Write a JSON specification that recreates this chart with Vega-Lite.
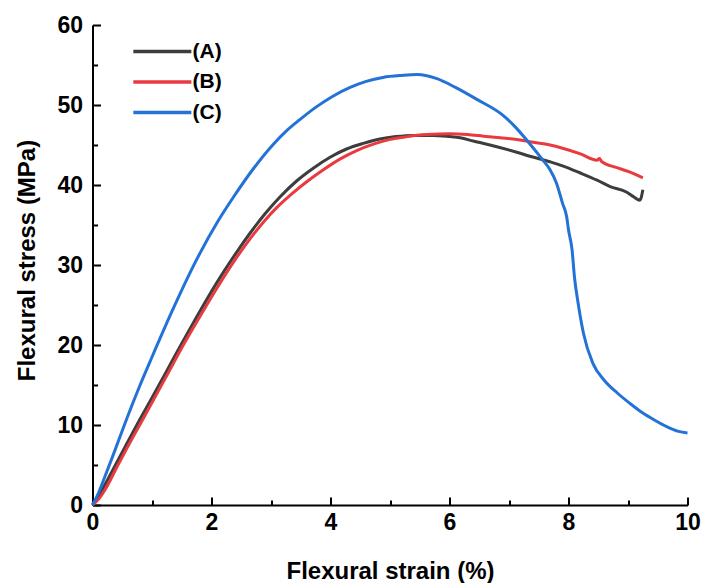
{
  "$schema": "https://vega.github.io/schema/vega-lite/v6.json",
  "width": 595,
  "height": 480,
  "autosize": {"type": "none"},
  "padding": {"left": 92.5, "top": 25, "right": 14.5, "bottom": 78},
  "background": "white",
  "config": {"view": {"stroke": null}, "font": "Liberation Sans"},
  "data": {"values": [
    {"s":"(A)","x":0,"y":0},{"s":"(A)","x":0.1,"y":1.1},{"s":"(A)","x":0.25,"y":3.1},{"s":"(A)","x":0.5,"y":6.6},{"s":"(A)","x":0.745,"y":10},{"s":"(A)","x":1.0,"y":13.4},{"s":"(A)","x":1.25,"y":16.8},{"s":"(A)","x":1.5,"y":20.2},{"s":"(A)","x":1.75,"y":23.5},{"s":"(A)","x":2.09,"y":27.8},{"s":"(A)","x":2.45,"y":31.9},{"s":"(A)","x":2.65,"y":34.0},{"s":"(A)","x":2.9,"y":36.4},{"s":"(A)","x":3.15,"y":38.5},{"s":"(A)","x":3.43,"y":40.5},{"s":"(A)","x":3.71,"y":42.1},{"s":"(A)","x":4.0,"y":43.5},{"s":"(A)","x":4.27,"y":44.5},{"s":"(A)","x":4.55,"y":45.2},{"s":"(A)","x":4.83,"y":45.75},{"s":"(A)","x":5.1,"y":46.05},{"s":"(A)","x":5.39,"y":46.2},{"s":"(A)","x":5.72,"y":46.2},{"s":"(A)","x":6.0,"y":46.05},{"s":"(A)","x":6.18,"y":45.9},{"s":"(A)","x":6.4,"y":45.5},{"s":"(A)","x":6.68,"y":45.0},{"s":"(A)","x":7.13,"y":44.1},{"s":"(A)","x":7.35,"y":43.6},{"s":"(A)","x":7.69,"y":42.9},{"s":"(A)","x":7.9,"y":42.4},{"s":"(A)","x":8.2,"y":41.5},{"s":"(A)","x":8.48,"y":40.6},{"s":"(A)","x":8.7,"y":39.8},{"s":"(A)","x":8.98,"y":39.1},{"s":"(A)","x":9.1,"y":38.5},{"s":"(A)","x":9.2,"y":38.1},{"s":"(A)","x":9.25,"y":39.4},
    {"s":"(B)","x":0,"y":0},{"s":"(B)","x":0.1,"y":0.7},{"s":"(B)","x":0.21,"y":1.9},{"s":"(B)","x":0.4,"y":4.6},{"s":"(B)","x":0.6,"y":7.4},{"s":"(B)","x":0.8,"y":10.1},{"s":"(B)","x":1.0,"y":12.8},{"s":"(B)","x":1.25,"y":16.2},{"s":"(B)","x":1.55,"y":20.3},{"s":"(B)","x":1.8,"y":23.5},{"s":"(B)","x":2.09,"y":27.1},{"s":"(B)","x":2.4,"y":30.7},{"s":"(B)","x":2.65,"y":33.3},{"s":"(B)","x":2.9,"y":35.6},{"s":"(B)","x":3.1,"y":37.2},{"s":"(B)","x":3.32,"y":38.7},{"s":"(B)","x":3.6,"y":40.4},{"s":"(B)","x":3.88,"y":41.9},{"s":"(B)","x":4.15,"y":43.2},{"s":"(B)","x":4.44,"y":44.3},{"s":"(B)","x":4.72,"y":45.1},{"s":"(B)","x":5.0,"y":45.7},{"s":"(B)","x":5.25,"y":46.0},{"s":"(B)","x":5.5,"y":46.25},{"s":"(B)","x":5.75,"y":46.35},{"s":"(B)","x":6.01,"y":46.4},{"s":"(B)","x":6.3,"y":46.3},{"s":"(B)","x":6.57,"y":46.1},{"s":"(B)","x":6.85,"y":45.9},{"s":"(B)","x":7.13,"y":45.7},{"s":"(B)","x":7.35,"y":45.4},{"s":"(B)","x":7.69,"y":45.0},{"s":"(B)","x":7.9,"y":44.6},{"s":"(B)","x":8.2,"y":43.9},{"s":"(B)","x":8.48,"y":43.1},{"s":"(B)","x":8.52,"y":43.3},{"s":"(B)","x":8.56,"y":42.9},{"s":"(B)","x":8.8,"y":42.2},{"s":"(B)","x":9.0,"y":41.7},{"s":"(B)","x":9.25,"y":40.9},
    {"s":"(C)","x":0,"y":0},{"s":"(C)","x":0.1,"y":1.5},{"s":"(C)","x":0.18,"y":3.0},{"s":"(C)","x":0.35,"y":6.3},{"s":"(C)","x":0.52,"y":9.7},{"s":"(C)","x":0.8,"y":15.0},{"s":"(C)","x":1.0,"y":18.5},{"s":"(C)","x":1.36,"y":24.6},{"s":"(C)","x":1.69,"y":29.8},{"s":"(C)","x":2.11,"y":35.5},{"s":"(C)","x":2.37,"y":38.5},{"s":"(C)","x":2.7,"y":42.0},{"s":"(C)","x":3.04,"y":45.1},{"s":"(C)","x":3.25,"y":46.7},{"s":"(C)","x":3.49,"y":48.2},{"s":"(C)","x":3.75,"y":49.7},{"s":"(C)","x":4.04,"y":51.1},{"s":"(C)","x":4.33,"y":52.2},{"s":"(C)","x":4.6,"y":52.95},{"s":"(C)","x":4.88,"y":53.45},{"s":"(C)","x":5.2,"y":53.7},{"s":"(C)","x":5.45,"y":53.8},{"s":"(C)","x":5.6,"y":53.7},{"s":"(C)","x":5.79,"y":53.3},{"s":"(C)","x":6.1,"y":52.2},{"s":"(C)","x":6.46,"y":50.7},{"s":"(C)","x":6.9,"y":48.7},{"s":"(C)","x":7.1,"y":47.3},{"s":"(C)","x":7.3,"y":45.6},{"s":"(C)","x":7.57,"y":43.1},{"s":"(C)","x":7.69,"y":41.9},{"s":"(C)","x":7.8,"y":40.2},{"s":"(C)","x":7.9,"y":37.7},{"s":"(C)","x":7.97,"y":36.0},{"s":"(C)","x":8.0,"y":34.4},{"s":"(C)","x":8.06,"y":31.9},{"s":"(C)","x":8.1,"y":28.5},{"s":"(C)","x":8.16,"y":25.3},{"s":"(C)","x":8.25,"y":21.5},{"s":"(C)","x":8.41,"y":17.7},{"s":"(C)","x":8.6,"y":15.6},{"s":"(C)","x":8.82,"y":14.0},{"s":"(C)","x":9.05,"y":12.6},{"s":"(C)","x":9.25,"y":11.5},{"s":"(C)","x":9.45,"y":10.6},{"s":"(C)","x":9.65,"y":9.8},{"s":"(C)","x":9.85,"y":9.2},{"s":"(C)","x":10.0,"y":9.0}
  ]},
  "mark": {"type": "line", "strokeWidth": 3, "interpolate": "monotone", "clip": false},
  "encoding": {
    "x": {
      "field": "x", "type": "quantitative",
      "scale": {"domain": [0, 10], "nice": false, "zero": false},
      "axis": {
        "title": "Flexural strain (%)",
        "values": [0,1,2,3,4,5,6,7,8,9,10],
        "labelExpr": "datum.value % 2 === 0 ? datum.label : ''",
        "grid": false,
        "domainColor": "black", "domainWidth": 2,
        "tickColor": "black", "tickWidth": 2,
        "tickSize": {"condition": {"test": "datum.value % 2 !== 0", "value": -5}, "value": -8},
        "labelFont": "Liberation Sans", "labelFontSize": 23, "labelFontWeight": "bold", "labelColor": "black",
        "labelPadding": 14, "labelFlush": false, "labelOverlap": false,
        "titleFont": "Liberation Sans", "titleFontSize": 24, "titleFontWeight": "bold", "titleColor": "black",
        "titleBaseline": "alphabetic", "titleY": 73, "titleX": 297.5
      }
    },
    "y": {
      "field": "y", "type": "quantitative",
      "scale": {"domain": [0, 60], "nice": false, "zero": false},
      "axis": {
        "title": "Flexural stress (MPa)",
        "values": [0,5,10,15,20,25,30,35,40,45,50,55,60],
        "labelExpr": "datum.value % 10 === 0 ? datum.label : ''",
        "grid": false,
        "domainColor": "black", "domainWidth": 2,
        "tickColor": "black", "tickWidth": 2,
        "tickSize": {"condition": {"test": "datum.value % 10 !== 0", "value": -5}, "value": -8},
        "labelFont": "Liberation Sans", "labelFontSize": 23, "labelFontWeight": "bold", "labelColor": "black",
        "labelPadding": 18, "labelFlush": false, "labelOverlap": false,
        "titleFont": "Liberation Sans", "titleFontSize": 24, "titleFontWeight": "bold", "titleColor": "black",
        "titleAngle": -90, "titleBaseline": "alphabetic", "titleX": -58.5, "titleY": 235
      }
    },
    "color": {
      "field": "s", "type": "nominal",
      "scale": {"domain": ["(A)", "(B)", "(C)"], "range": ["#3d3d3d", "#e83a3f", "#2272d8"]},
      "legend": {
        "title": null, "orient": "none", "legendX": 39, "legendY": 15,
        "symbolType": "M-1,0L5,0", "symbolSize": 374, "symbolStrokeWidth": 3.5,
        "labelFont": "Liberation Sans", "labelFontSize": 21, "labelFontWeight": "bold", "labelColor": "black",
        "labelOffset": 38, "rowPadding": 8.5, "padding": 0
      }
    }
  }
}
